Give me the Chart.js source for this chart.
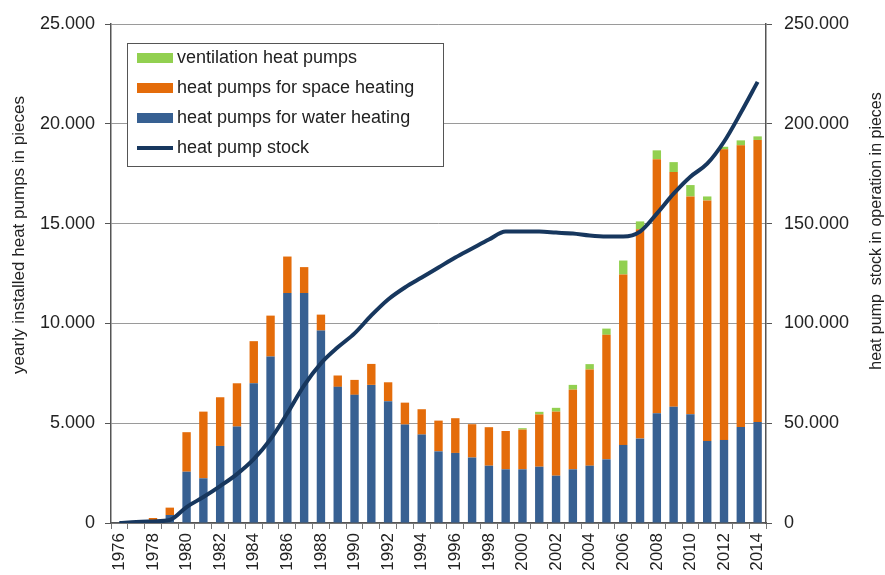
<!DOCTYPE html>
<html>
<head>
<meta charset="utf-8">
<script src="https://cdn.jsdelivr.net/npm/chart.js@4/dist/chart.umd.min.js"></script>
<style>
  html, body { margin: 0; padding: 0; background: #ffffff; overflow: hidden; }
  #wrap { width: 885px; height: 590px; }
</style>
</head>
<body>
<div id="wrap"><canvas id="c" width="885" height="590"></canvas></div>
<script>
// ---- data ----
const years = [1976,1977,1978,1979,1980,1981,1982,1983,1984,1985,1986,1987,1988,1989,1990,1991,1992,1993,1994,1995,1996,1997,1998,1999,2000,2001,2002,2003,2004,2005,2006,2007,2008,2009,2010,2011,2012,2013,2014];
const waterHeating = [30,40,50,400,2570,2240,3860,4830,7000,8340,11520,11520,9640,6820,6420,6920,6100,4930,4430,3590,3510,3280,2870,2690,2690,2820,2370,2690,2870,3190,3910,4230,5500,5830,5450,4110,4160,4810,5060];
const spaceHeating = [0,30,200,370,1980,3340,2440,2170,2110,2050,1830,1300,800,570,750,1050,950,1100,1270,1540,1740,1670,1930,1920,1990,2620,3210,3990,4820,6240,8540,10490,12730,11750,10910,12050,14560,14110,14130];
const ventilation = [0,0,0,0,0,0,0,0,0,0,0,0,0,0,0,0,0,0,0,0,0,0,0,0,70,130,190,240,270,310,700,390,440,500,570,200,130,250,180];
const stock = [0,500,800,1500,8000,13000,18500,24500,32000,42000,55000,69000,80000,88000,95000,104000,112000,118000,123000,128000,133000,137500,142000,146000,146000,146000,145500,145000,144000,143500,143500,146000,155000,165000,173500,180000,191000,205500,221000];
const leftTicks = [0,5000,10000,15000,20000,25000];
const rightTicks = [0,50000,100000,150000,200000,250000];
const seriesNames = ['ventilation heat pumps','heat pumps for space heating','heat pumps for water heating','heat pump stock'];
const leftTitle = 'yearly installed heat pumps in pieces';
const rightTitle = 'heat pump  stock in operation in pieces';

const C_GREEN = '#92d050', C_ORANGE = '#e46c0a', C_BLUE = '#376092', C_NAVY = '#17375e';
const FONT = "'Liberation Sans', Arial, sans-serif";
const TXT = '#222222';

function fmt(v) { return String(v).replace(/\B(?=(\d{3})+(?!\d))/g, '.'); }

const legendPlugin = {
  id: 'customDecor',
  afterDraw(chart) {
    const ctx = chart.ctx;
    const ca = chart.chartArea;
    ctx.save();
    // legend box
    const bx = ca.left + 16, by = ca.top + 19, bw = 316, bh = 123;
    ctx.fillStyle = '#ffffff';
    ctx.fillRect(bx, by, bw, bh);
    ctx.strokeStyle = '#555555';
    ctx.lineWidth = 1;
    ctx.strokeRect(bx + 0.5, by + 0.5, bw, bh);
    const colors = [C_GREEN, C_ORANGE, C_BLUE, C_NAVY];
    ctx.font = '18px ' + FONT;
    ctx.textBaseline = 'middle';
    ctx.textAlign = 'left';
    for (let i = 0; i < seriesNames.length; i++) {
      const cy = by + 15 + i * 30;
      ctx.fillStyle = colors[i];
      if (i < 3) {
        ctx.fillRect(bx + 10, cy - 5, 36, 10);
      } else {
        ctx.fillRect(bx + 10, cy - 2, 36, 4);
      }
      ctx.fillStyle = TXT;
      ctx.fillText(seriesNames[i], bx + 50, cy);
    }
    // axis titles
    ctx.font = '17px ' + FONT;
    ctx.fillStyle = TXT;
    ctx.textAlign = 'center';
    ctx.save();
    ctx.translate(19, 235);
    ctx.rotate(-Math.PI / 2);
    ctx.fillText(leftTitle, 0, 0);
    ctx.restore();
    ctx.font = '16px ' + FONT;
    ctx.save();
    ctx.translate(877, 231);
    ctx.rotate(-Math.PI / 2);
    ctx.fillText(rightTitle, 0, 0);
    ctx.restore();
    ctx.restore();
  }
};

new Chart(document.getElementById('c'), {
  data: {
    labels: years.map(String),
    datasets: [
      { type: 'line', label: seriesNames[3], data: stock, yAxisID: 'y1', borderColor: C_NAVY, borderWidth: 4,
        pointRadius: 0, cubicInterpolationMode: 'monotone', fill: false, order: 0 },
      { type: 'bar', label: seriesNames[2], data: waterHeating, backgroundColor: C_BLUE, stack: 's', yAxisID: 'y', order: 1,
        barPercentage: 0.5, categoryPercentage: 1.0 },
      { type: 'bar', label: seriesNames[1], data: spaceHeating, backgroundColor: C_ORANGE, stack: 's', yAxisID: 'y', order: 1,
        barPercentage: 0.5, categoryPercentage: 1.0 },
      { type: 'bar', label: seriesNames[0], data: ventilation, backgroundColor: C_GREEN, stack: 's', yAxisID: 'y', order: 1,
        barPercentage: 0.5, categoryPercentage: 1.0 }
    ]
  },
  options: {
    responsive: false,
    animation: false,
    devicePixelRatio: 1,
    layout: { padding: { top: 24, left: 0, right: 0, bottom: 0 } },
    plugins: { legend: { display: false }, tooltip: { enabled: false } },
    scales: {
      x: {
        stacked: true,
        offset: true,
        grid: { display: true, drawOnChartArea: false, offset: true, color: '#777777', tickLength: 6 },
        border: { display: true, color: '#555555', width: 1.5 },
        ticks: {
          autoSkip: false, minRotation: 90, maxRotation: 90, padding: 4,
          color: TXT, font: { family: FONT, size: 17 },
          callback: function (v, i) { return years[i] % 2 === 0 ? String(years[i]) : ''; }
        },
        afterFit: function (s) { s.height = 67; }
      },
      y: {
        position: 'left', stacked: true, min: 0, max: 25000,
        afterBuildTicks: function (s) { s.ticks = leftTicks.map(v => ({ value: v })); },
        grid: { color: '#9a9a9a', lineWidth: 1, tickLength: 6, drawTicks: true, tickColor: '#555555' },
        border: { display: true, color: '#555555', width: 1.5 },
        ticks: { padding: 10, color: TXT, font: { family: FONT, size: 18 }, callback: v => fmt(v) },
        afterFit: function (s) { s.width = 111; }
      },
      y1: {
        position: 'right', stacked: false, min: 0, max: 250000,
        afterBuildTicks: function (s) { s.ticks = rightTicks.map(v => ({ value: v })); },
        grid: { drawOnChartArea: false, tickLength: 6, color: '#555555' },
        border: { display: true, color: '#555555', width: 1.5 },
        ticks: { padding: 12, color: TXT, font: { family: FONT, size: 18 }, callback: v => fmt(v) },
        afterFit: function (s) { s.width = 119; }
      }
    }
  },
  plugins: [legendPlugin]
});
</script>
</body>
</html>
